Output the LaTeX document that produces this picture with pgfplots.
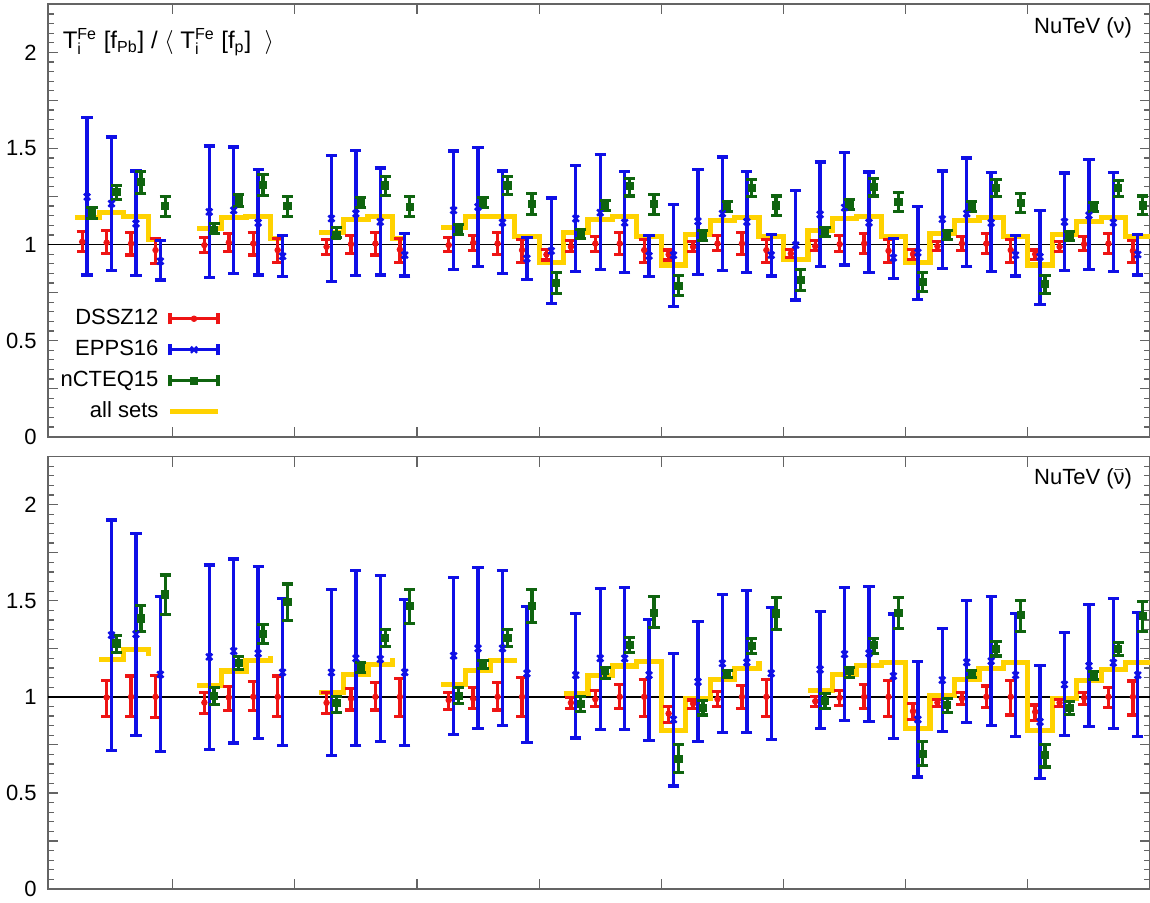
\documentclass[border=0pt]{standalone}
\usepackage{fontspec}
\setmainfont{Liberation Sans}
\usepackage{pgfplots}
\usepackage{pgfplotstable}
\pgfplotsset{compat=1.18}
\definecolor{cR}{RGB}{238,20,20}
\definecolor{cB}{RGB}{15,15,230}
\definecolor{cG}{RGB}{15,100,15}
\definecolor{cY}{RGB}{255,210,0}
\definecolor{cAx}{RGB}{100,100,100}

% slot, DSSZ12 (val, hi, lo), EPPS16 (val, hi, lo), nCTEQ15 (val, hi, lo)
\pgfplotstableread{
s d dh dl e eh el n nh nl
1 1.014 1.069 0.962 1.248 1.660 0.841 1.166 1.192 1.135
2 1.010 1.071 0.953 1.213 1.559 0.863 1.274 1.308 1.234
3 1.005 1.062 0.945 1.109 1.383 0.837 1.326 1.381 1.265
4 0.971 1.031 0.901 0.913 1.019 0.815 1.199 1.248 1.147
6 0.997 1.036 0.957 1.170 1.513 0.829 1.074 1.109 1.057
7 1.010 1.057 0.962 1.178 1.507 0.849 1.230 1.260 1.196
8 1.005 1.062 0.945 1.113 1.390 0.841 1.312 1.364 1.256
9 0.971 1.031 0.905 0.939 1.045 0.832 1.199 1.251 1.147
11 0.988 1.026 0.950 1.135 1.464 0.806 1.048 1.087 1.036
12 1.002 1.048 0.953 1.161 1.490 0.839 1.218 1.244 1.192
13 1.005 1.062 0.945 1.118 1.398 0.841 1.308 1.355 1.256
14 0.974 1.031 0.905 0.945 1.057 0.836 1.196 1.248 1.147
16 0.997 1.035 0.962 1.178 1.487 0.870 1.080 1.106 1.054
17 1.009 1.048 0.967 1.196 1.504 0.884 1.218 1.244 1.192
18 1.005 1.061 0.950 1.114 1.383 0.849 1.308 1.352 1.261
19 0.971 1.026 0.905 0.927 1.036 0.820 1.213 1.265 1.156
20 0.948 0.974 0.919 0.967 1.242 0.693 0.801 0.853 0.745
21 0.988 1.019 0.962 1.135 1.412 0.861 1.048 1.078 1.031
22 1.005 1.043 0.965 1.166 1.469 0.872 1.201 1.227 1.178
23 1.005 1.061 0.950 1.114 1.381 0.855 1.303 1.343 1.253
24 0.971 1.026 0.905 0.941 1.048 0.832 1.213 1.260 1.156
25 0.948 0.971 0.919 0.945 1.210 0.676 0.785 0.837 0.733
26 0.988 1.014 0.962 1.121 1.391 0.846 1.045 1.071 1.019
27 1.005 1.045 0.967 1.161 1.455 0.863 1.199 1.222 1.173
28 1.005 1.061 0.950 1.118 1.381 0.853 1.296 1.339 1.251
29 0.971 1.026 0.905 0.945 1.054 0.836 1.204 1.253 1.152
30 0.953 0.974 0.932 0.997 1.282 0.711 0.815 0.870 0.759
31 0.991 1.019 0.967 1.156 1.429 0.887 1.066 1.088 1.040
32 1.002 1.048 0.962 1.192 1.478 0.893 1.210 1.234 1.182
33 1.005 1.057 0.953 1.114 1.377 0.855 1.300 1.343 1.253
34 0.967 1.026 0.905 0.931 1.031 0.823 1.222 1.270 1.170
35 0.950 0.974 0.922 0.958 1.199 0.714 0.806 0.853 0.754
36 0.991 1.014 0.967 1.132 1.383 0.875 1.048 1.074 1.028
37 1.005 1.040 0.967 1.161 1.450 0.884 1.196 1.222 1.170
38 1.005 1.057 0.953 1.113 1.374 0.858 1.294 1.338 1.251
39 0.971 1.026 0.906 0.945 1.048 0.836 1.216 1.265 1.166
40 0.950 0.971 0.922 0.936 1.178 0.690 0.794 0.837 0.745
41 0.988 1.014 0.962 1.118 1.372 0.863 1.045 1.066 1.023
42 1.002 1.043 0.967 1.152 1.442 0.872 1.196 1.218 1.170
43 1.005 1.057 0.953 1.114 1.374 0.861 1.294 1.334 1.248
44 0.967 1.023 0.905 0.948 1.054 0.841 1.204 1.253 1.156
}\toptab

\pgfplotstableread{
s d dh dl e eh el n nh nl
2 0.997 1.083 0.896 1.321 1.920 0.719 1.278 1.321 1.231
3 1.000 1.108 0.896 1.326 1.851 0.800 1.408 1.474 1.342
4 1.000 1.113 0.891 1.116 1.521 0.714 1.533 1.634 1.429
6 0.970 1.023 0.913 1.208 1.686 0.727 1.005 1.049 0.962
7 0.997 1.052 0.927 1.238 1.717 0.760 1.177 1.208 1.144
8 1.000 1.078 0.927 1.226 1.677 0.783 1.326 1.377 1.278
9 1.000 1.108 0.899 1.127 1.512 0.748 1.495 1.587 1.399
11 0.969 1.021 0.913 1.127 1.559 0.696 0.969 1.000 0.918
12 0.991 1.043 0.931 1.200 1.656 0.745 1.148 1.177 1.125
13 1.000 1.073 0.931 1.196 1.630 0.766 1.307 1.351 1.260
14 1.000 1.095 0.899 1.127 1.507 0.748 1.472 1.559 1.382
16 0.983 1.021 0.936 1.214 1.620 0.806 1.005 1.047 0.965
17 0.991 1.047 0.939 1.252 1.672 0.835 1.165 1.191 1.148
18 1.000 1.075 0.931 1.252 1.656 0.849 1.307 1.351 1.260
19 1.000 1.101 0.899 1.122 1.469 0.762 1.472 1.559 1.385
21 0.969 0.997 0.939 1.113 1.434 0.786 0.965 1.000 0.925
22 0.988 1.031 0.948 1.200 1.564 0.830 1.134 1.151 1.095
23 1.000 1.064 0.939 1.200 1.569 0.830 1.269 1.309 1.229
24 1.000 1.090 0.899 1.113 1.403 0.774 1.438 1.521 1.359
25 0.913 0.951 0.865 0.882 1.226 0.536 0.679 0.752 0.606
26 0.965 0.983 0.939 1.078 1.391 0.766 0.943 0.979 0.905
27 0.988 1.026 0.951 1.174 1.533 0.813 1.118 1.139 1.101
28 1.000 1.057 0.939 1.179 1.552 0.813 1.264 1.304 1.226
29 1.000 1.090 0.899 1.122 1.464 0.778 1.434 1.516 1.352
31 0.977 1.000 0.951 1.142 1.446 0.835 0.979 1.017 0.939
32 0.995 1.031 0.953 1.222 1.568 0.875 1.135 1.153 1.101
33 1.000 1.064 0.939 1.226 1.576 0.873 1.269 1.304 1.226
34 1.000 1.087 0.899 1.108 1.431 0.783 1.438 1.516 1.356
35 0.925 0.965 0.882 0.882 1.182 0.583 0.705 0.769 0.641
36 0.970 0.988 0.948 1.087 1.356 0.818 0.957 0.991 0.918
37 0.991 1.023 0.960 1.179 1.500 0.865 1.118 1.135 1.099
38 1.000 1.056 0.944 1.186 1.521 0.849 1.248 1.286 1.212
39 1.000 1.083 0.905 1.113 1.434 0.792 1.425 1.500 1.342
40 0.922 0.957 0.878 0.870 1.161 0.575 0.696 0.752 0.635
41 0.969 0.986 0.948 1.064 1.333 0.800 0.944 0.977 0.908
42 0.995 1.023 0.962 1.161 1.481 0.844 1.113 1.130 1.090
43 1.000 1.049 0.944 1.177 1.512 0.835 1.248 1.283 1.214
44 1.000 1.082 0.905 1.113 1.439 0.792 1.420 1.498 1.339
}\bottab

\pgfplotsset{
  panel/.style={
    scale only axis, width=551pt, height=216.2pt,
    xmin=-0.1, xmax=45, ymin=0, ymax=2.25,
    xtick={5,10,...,40}, xticklabels={},
    ytick={0,0.5,1,1.5,2},
    extra y ticks={0.25,0.75,1.25,1.75}, extra y tick labels={},
    minor ytick={0,0.05,...,2.26},
    major tick length=5pt, minor tick length=2.8pt,
    axis line style={cAx, line width=0.8pt},
    every tick/.style={cAx, line width=0.6pt},
    yticklabel style={font=\fontsize{11}{13}\selectfont, inner sep=0pt, xshift=-5.5pt},
    /pgf/number format/assume math mode=true,
  },
  eb/.style={only marks, color=#1,
    error bars/.cd, y dir=both, y explicit,
    error bar style={line width=1.7pt, color=#1},
    error mark options={rotate=90, mark size=2.8pt, line width=1.6pt, color=#1}},
  yel/.style={const plot, color=cY, line width=2.6pt, forget plot},
  one/.style={black, line width=0.7pt, forget plot},
}

\begin{document}
\begin{tikzpicture}
% ---------------- top panel ----------------
\begin{axis}[panel, at={(24pt,232.65pt)}, anchor=south west,
  legend style={draw=none, fill=none, at={(0.157,0.298)}, anchor=north east,
    font=\fontsize{11}{13}\selectfont, row sep=5pt, column sep=4.5pt, inner sep=0pt,
    nodes={inner sep=0pt, text height=8pt, text depth=2.5pt}},
  legend plot pos=right, legend cell align=right]
\addplot[one] coordinates {(-0.1,1) (45,1)};
\addplot[yel] coordinates {(1,1.140) (2,1.168) (3,1.147) (4,1.028) (4.5,1.028)};
\addplot[yel] coordinates {(6,1.085) (7,1.142) (8,1.147) (9,1.031) (9.5,1.031)};
\addplot[yel] coordinates {(11,1.064) (12,1.132) (13,1.147) (14,1.031) (14.5,1.031)};
\addplot[yel] coordinates {(16,1.087) (17,1.144) (18,1.147) (19,1.040) (20,0.905)
  (21,1.062) (22,1.132) (23,1.144) (24,1.040) (25,0.893) (26,1.054) (27,1.126)
  (28,1.140) (29,1.040) (30,0.922) (31,1.074) (32,1.135) (33,1.144) (34,1.040)
  (35,0.905) (36,1.057) (37,1.126) (38,1.140) (39,1.043) (40,0.893) (41,1.054)
  (42,1.118) (43,1.140) (44,1.040) (45,1.040)};
\addplot[forget plot, mark=*, mark size=1.4pt, eb=cR]
  table[x expr=\thisrow{s}+0.3, y=d, y error plus expr=\thisrow{dh}-\thisrow{d}, y error minus expr=\thisrow{d}-\thisrow{dl}]{\toptab};
\addplot[forget plot, mark=x, mark size=2.2pt, mark options={line width=1.2pt}, eb=cB]
  table[x expr=\thisrow{s}+0.5, y=e, y error plus expr=\thisrow{eh}-\thisrow{e}, y error minus expr=\thisrow{e}-\thisrow{el}]{\toptab};
\addplot[forget plot, mark=square*, mark size=1.8pt, eb=cG]
  table[x expr=\thisrow{s}+0.7, y=n, y error plus expr=\thisrow{nh}-\thisrow{n}, y error minus expr=\thisrow{n}-\thisrow{nl}]{\toptab};
\addlegendimage{legend image code/.code={
  \draw[cR, line width=1.6pt] (0pt,0pt) -- (24pt,0pt) (0pt,-2.8pt) -- (0pt,2.8pt) (24pt,-2.8pt) -- (24pt,2.8pt);
  \draw[cR, mark=*, mark size=1.4pt] plot coordinates {(12pt,0pt)};}}
\addlegendentry{DSSZ12}
\addlegendimage{legend image code/.code={
  \draw[cB, line width=1.6pt] (0pt,0pt) -- (24pt,0pt) (0pt,-2.8pt) -- (0pt,2.8pt) (24pt,-2.8pt) -- (24pt,2.8pt);
  \draw[cB, mark=x, mark size=2.2pt, mark options={line width=1.2pt}] plot coordinates {(12pt,0pt)};}}
\addlegendentry{EPPS16}
\addlegendimage{legend image code/.code={
  \draw[cG, line width=1.6pt] (0pt,0pt) -- (24pt,0pt) (0pt,-2.8pt) -- (0pt,2.8pt) (24pt,-2.8pt) -- (24pt,2.8pt);
  \draw[cG, mark=square*, mark size=1.8pt] plot coordinates {(12pt,0pt)};}}
\addlegendentry{nCTEQ15}
\addlegendimage{legend image code/.code={
  \draw[cY, line width=2.6pt] (0pt,0pt) -- (24pt,0pt);}}
\addlegendentry{all sets}
\node[anchor=base west, font=\fontsize{12}{14}\selectfont] at (rel axis cs:0.007,0.898)
  {T$_\mathrm{i}^\mathrm{Fe}$ [f$_\mathrm{Pb}$] / $\langle$ T$_\mathrm{i}^\mathrm{Fe}$ [f$_\mathrm{p}$] \ $\rangle$};
\node[anchor=base east, font=\fontsize{11}{13}\selectfont] at (rel axis cs:0.99,0.933) {NuTeV (ν)};
\end{axis}
% ---------------- bottom panel ----------------
\begin{axis}[panel, at={(24pt,6.5pt)}, anchor=south west]
\addplot[one] coordinates {(-0.1,1) (45,1)};
\addplot[yel] coordinates {(2,1.196) (3,1.248) (4,1.212)};
\addplot[yel] coordinates {(6,1.061) (7,1.134) (8,1.188) (9,1.212)};
\addplot[yel] coordinates {(11,1.021) (12,1.118) (13,1.170) (14,1.203)};
\addplot[yel] coordinates {(16,1.064) (17,1.139) (18,1.188) (19,1.203)};
\addplot[yel] coordinates {(21,1.017) (22,1.109) (23,1.160) (24,1.182) (25,0.826)
  (26,0.991) (27,1.092) (28,1.148) (29,1.188)};
\addplot[yel] coordinates {(31,1.031) (32,1.118) (33,1.165) (34,1.179) (35,0.835)
  (36,1.009) (37,1.092) (38,1.148) (39,1.179) (40,0.826) (41,0.991) (42,1.087)
  (43,1.142) (44,1.177) (45,1.177)};
\addplot[forget plot, mark=*, mark size=1.4pt, eb=cR]
  table[x expr=\thisrow{s}+0.3, y=d, y error plus expr=\thisrow{dh}-\thisrow{d}, y error minus expr=\thisrow{d}-\thisrow{dl}]{\bottab};
\addplot[forget plot, mark=x, mark size=2.2pt, mark options={line width=1.2pt}, eb=cB]
  table[x expr=\thisrow{s}+0.5, y=e, y error plus expr=\thisrow{eh}-\thisrow{e}, y error minus expr=\thisrow{e}-\thisrow{el}]{\bottab};
\addplot[forget plot, mark=square*, mark size=1.8pt, eb=cG]
  table[x expr=\thisrow{s}+0.7, y=n, y error plus expr=\thisrow{nh}-\thisrow{n}, y error minus expr=\thisrow{n}-\thisrow{nl}]{\bottab};
\node[anchor=base east, font=\fontsize{11}{13}\selectfont] at (rel axis cs:0.99,0.935) {NuTeV ($\bar{\mbox{ν}}$)};
\end{axis}
\pgfresetboundingbox
\path[use as bounding box] (0pt,0pt) rectangle (575pt,451pt);
\end{tikzpicture}
\end{document}
